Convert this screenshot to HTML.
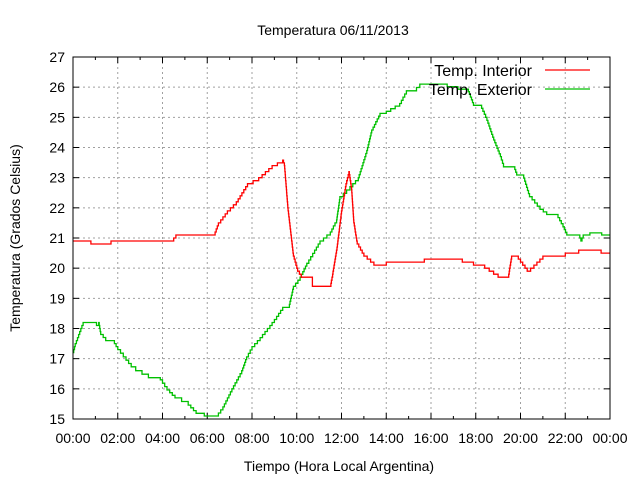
<!DOCTYPE html>
<html><head><meta charset="utf-8"><style>
body{margin:0;background:#fff}
svg{display:block;font-family:"Liberation Sans",sans-serif}
</style></head><body>
<svg id="chart" width="640" height="480" viewBox="0 0 640 480">
<rect width="640" height="480" fill="#fff"/>
<text x="333" y="35" font-size="14" text-anchor="middle">Temperatura 06/11/2013</text>
<text transform="translate(20,238) rotate(-90)" font-size="14" text-anchor="middle">Temperatura (Grados Celsius)</text>
<text x="339" y="471" font-size="14" text-anchor="middle">Tiempo (Hora Local Argentina)</text>
<g id="grid"></g><g id="ticks"></g><g id="series"></g>
<rect x="73" y="57" width="537" height="362" fill="none" stroke="#000" stroke-width="1"/>
<g>
<text x="532" y="76" font-size="16" text-anchor="end">Temp. Interior</text>
<line x1="545" y1="70" x2="590" y2="70" stroke="#ff0000" stroke-width="1.2"/>
<text x="532" y="95" font-size="16" text-anchor="end">Temp. Exterior</text>
<line x1="545" y1="89" x2="590" y2="89" stroke="#00c000" stroke-width="1.2"/>
</g>
</svg>
<script>
const yTicks=[15,16,17,18,19,20,21,22,23,24,25,26,27];
const xTickHours=[0,2,4,6,8,10,12,14,16,18,20,22,24];
const xTickLabels=["00:00","02:00","04:00","06:00","08:00","10:00","12:00","14:00","16:00","18:00","20:00","22:00","00:00"];
const interiorHours=[0,0.8,0.8,1.7,1.7,4.4,4.6,6.3,6.5,6.9,7.3,7.8,8.3,8.9,9.37,9.45,9.6,9.85,10.04,10.2,10.7,10.7,11.5,11.6,11.8,12.0,12.2,12.33,12.45,12.55,12.7,13.0,13.45,14.0,14.0,15.7,15.7,17.4,17.4,17.9,18.4,19.0,19.45,19.6,19.9,20.3,20.6,21.0,22.0,22.0,22.6,23.6,23.6,24];
const interiorTemps=[20.9,20.9,20.8,20.8,20.9,20.9,21.1,21.1,21.5,21.9,22.2,22.8,23.0,23.4,23.58,23.4,22.0,20.4,19.9,19.7,19.6,19.4,19.4,19.8,20.7,21.9,22.8,23.2,22.6,21.5,20.8,20.4,20.1,20.1,20.2,20.2,20.3,20.3,20.2,20.1,20.0,19.7,19.7,20.4,20.3,19.9,20.1,20.4,20.4,20.5,20.6,20.6,20.5,20.5];
const exteriorHours=[0,0.1,0.45,0.97,1.05,1.15,1.24,1.46,1.85,2.0,2.25,2.6,2.8,3.37,3.9,4.2,4.56,5.15,5.5,5.87,6.4,6.7,7.1,7.54,7.76,8.0,8.36,8.8,9.1,9.37,9.67,9.85,10.15,10.45,10.8,11.04,11.5,11.78,11.93,12.38,12.75,13.13,13.35,13.72,14.0,14.6,14.9,15.2,15.5,16.25,17.67,17.9,18.2,18.5,18.8,19.1,19.24,19.7,19.83,20.1,20.4,20.87,21.17,21.6,21.9,22.07,22.6,22.7,22.8,23.1,23.55,23.63,24];
const exteriorTemps=[17.2,17.5,18.2,18.2,18.1,18.2,17.8,17.6,17.5,17.3,17.06,16.73,16.6,16.37,16.3,15.96,15.7,15.46,15.19,15.1,15.1,15.4,16.0,16.6,17.06,17.4,17.7,18.1,18.4,18.7,18.8,19.4,19.7,20.16,20.6,20.9,21.2,21.6,22.37,22.7,23.0,23.9,24.58,25.13,25.2,25.46,25.88,25.88,26.1,26.1,25.85,25.4,25.4,24.9,24.25,23.7,23.36,23.36,23.09,23.09,22.37,21.95,21.78,21.78,21.37,21.1,21.1,20.9,21.1,21.17,21.17,21.1,21.1];
const NS="http://www.w3.org/2000/svg";
const X0=73,X1=610,Y0=419,Y1=57;
function xs(h){return X0+h*(X1-X0)/24;}
function ys(t){return Y0-(t-15)*(Y0-Y1)/12;}
function mk(tag,attrs,parent){const e=document.createElementNS(NS,tag);for(const k in attrs)e.setAttribute(k,attrs[k]);parent.appendChild(e);return e;}
const grid=document.getElementById('grid'),ticks=document.getElementById('ticks'),series=document.getElementById('series');
yTicks.forEach(t=>{const y=ys(t);
 if(t>15&&t<27){const g=mk('line',{x1:X0,x2:X1,y1:y,y2:y,stroke:'#a0a0a0','stroke-dasharray':'2,3'},grid);
 
 }
 const l=mk('line',{x1:X0,x2:X0+6,y1:y,y2:y,stroke:'#000'},ticks);
 
 
 const r=mk('line',{x1:X1-6,x2:X1,y1:y,y2:y,stroke:'#000'},ticks);
 
 
 const tx=mk('text',{x:X0-8,y:y+5,'font-size':14,'text-anchor':'end'},ticks);tx.textContent=t;
 
 
});
xTickHours.forEach((h,i)=>{const x=xs(h);
 if(h>0&&h<24){const g=mk('line',{x1:x,x2:x,y1:Y1,y2:Y0,stroke:'#a0a0a0','stroke-dasharray':'2,3'},grid);
 
 }
 const b=mk('line',{x1:x,x2:x,y1:Y0,y2:Y0-6,stroke:'#000'},ticks);
 
 
 const t=mk('line',{x1:x,x2:x,y1:Y1,y2:Y1+6,stroke:'#000'},ticks);
 
 
 if(h<24){const xm=xs(h+1);
 const m=mk('line',{x1:xm,x2:xm,y1:Y0,y2:Y0-3,stroke:'#000'},ticks);
 
 
 const m2=mk('line',{x1:xm,x2:xm,y1:Y1,y2:Y1+3,stroke:'#000'},ticks);
 
 }
 const tx=mk('text',{x:x,y:Y0+24,'font-size':14,'text-anchor':'middle'},ticks);tx.textContent=xTickLabels[i];
 
 
});
function stepPath(hs,ts){
 let d='M'+xs(hs[0]).toFixed(1)+','+ys(ts[0]).toFixed(1);
 for(let i=1;i<hs.length;i++){
  const x0=xs(hs[i-1]),x1=xs(hs[i]),y0=ys(ts[i-1]),y1=ys(ts[i]);
  const n=Math.max(1,Math.round(Math.abs(y1-y0)/3));
  for(let k=1;k<=n;k++){
   const xx=x0+(x1-x0)*k/n,yy=y0+(y1-y0)*(k-1)/n,yn=y0+(y1-y0)*k/n;
   d+=' L'+xx.toFixed(1)+','+yy.toFixed(1)+' L'+xx.toFixed(1)+','+yn.toFixed(1);
  }
 }
 return d;
}
const ext=mk('path',{d:stepPath(exteriorHours,exteriorTemps),fill:'none',stroke:'#00c000','stroke-width':1.3},series);


const intr=mk('path',{d:stepPath(interiorHours,interiorTemps),fill:'none',stroke:'#ff0000','stroke-width':1.3},series);


</script>
</body></html>
